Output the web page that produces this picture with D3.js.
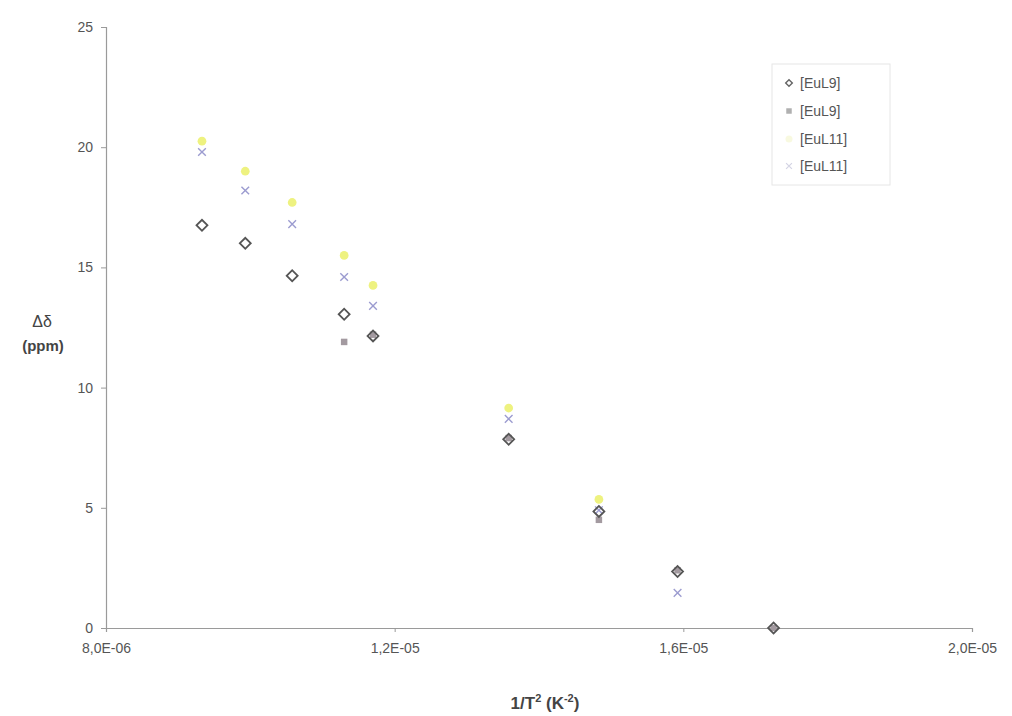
<!DOCTYPE html>
<html>
<head>
<meta charset="utf-8">
<script src="https://cdn.jsdelivr.net/npm/d3@7"></script>
<style>
  html, body { margin: 0; padding: 0; background: #fff; }
  svg { display: block; }
</style>
</head>
<body>
<svg id="chart" width="1012" height="716"></svg>
<script>
// ---- data ----
const xValues = [9.33e-6, 9.93e-6, 10.58e-6, 11.30e-6, 11.70e-6, 13.58e-6, 14.83e-6, 15.92e-6, 17.25e-6];
const seriesNames = ["[EuL9]", "[EuL9]", "[EuL11]", "[EuL11]"];
const eul9a  = [16.75, 16.0, 14.65, 13.05, 12.15, 7.85, 4.85, 2.35, 0.0];
const eul9b  = [null, null, null, 11.9, 12.2, 7.9, 4.5, 2.4, 0.0];
const eul11a = [20.25, 19.0, 17.7, 15.5, 14.25, 9.15, 5.35, null, null];
const eul11b = [19.8, 18.2, 16.8, 14.6, 13.4, 8.7, 4.9, 1.46, null];
const xTicks = [8e-6, 1.2e-5, 1.6e-5, 2.0e-5];
const yTicks = [0, 5, 10, 15, 20, 25];

const svg = d3.select("#chart");
const x = d3.scaleLinear().domain([8e-6, 2e-5]).range([106, 972]);
const y = d3.scaleLinear().domain([0, 25]).range([628, 27]);

const textColor = "#555";
const axisColor = "#9a9a9a";
const font = "Liberation Sans, Arial, sans-serif";

function excelSci(d) {
  const s = d.toExponential(1); // e.g. 8.0e-6
  const [m, e] = s.split("e");
  const sign = e[0] === "-" ? "-" : "+";
  const digits = e.replace(/[-+]/, "").padStart(2, "0");
  return m.replace(".", ",") + "E" + sign + digits;
}

// y axis
const yAxis = svg.append("g")
  .attr("transform", `translate(${x.range()[0]},0)`)
  .call(d3.axisLeft(y).tickValues(yTicks).tickSize(5).tickPadding(8).tickFormat(d3.format("d")));
yAxis.select(".domain").attr("stroke", axisColor).attr("stroke-width", 1.2);
yAxis.selectAll(".tick line").attr("stroke", axisColor);
yAxis.selectAll(".tick text").attr("fill", textColor)
  .style("font-family", font).style("font-size", "14px");

// x axis
const xAxis = svg.append("g")
  .attr("transform", `translate(0,${y(0)})`)
  .call(d3.axisBottom(x).tickValues(xTicks).tickSize(4).tickPadding(11).tickFormat(excelSci));
xAxis.select(".domain").attr("stroke", axisColor).attr("stroke-width", 1.2);
xAxis.selectAll(".tick line").attr("stroke", axisColor);
xAxis.selectAll(".tick text").attr("fill", textColor)
  .style("font-family", font).style("font-size", "14px");

// axis titles
svg.append("text")
  .attr("x", 42).attr("y", 327)
  .attr("text-anchor", "middle")
  .attr("fill", "#444")
  .style("font-family", font)
  .style("font-size", "16px")
  .text("Δδ");
svg.append("text")
  .attr("x", 43).attr("y", 351)
  .attr("text-anchor", "middle")
  .attr("fill", "#444")
  .style("font-family", font)
  .style("font-size", "15px").style("font-weight", "bold")
  .text("(ppm)");

const xt = svg.append("text")
  .attr("x", 545).attr("y", 709)
  .attr("text-anchor", "middle")
  .attr("fill", "#444")
  .style("font-family", font)
  .style("font-size", "17px").style("font-weight", "bold");
xt.append("tspan").text("1/T");
xt.append("tspan").attr("dy", -7).style("font-size", "11px").text("2");
xt.append("tspan").attr("dy", 7).text(" (K");
xt.append("tspan").attr("dy", -7).style("font-size", "11px").text("-2");
xt.append("tspan").attr("dy", 7).text(")");

// markers
const seriesDefs = [
  { vals: eul11a, kind: "yellow" },
  { vals: eul11b, kind: "cross" },
  { vals: eul9b,  kind: "square" },
  { vals: eul9a,  kind: "diamond" }
];

function drawMarker(g, kind, cx, cy) {
  if (kind === "diamond") {
    g.append("path")
      .attr("d", d3.symbol().type(d3.symbolSquare).size(60)())
      .attr("transform", `translate(${cx},${cy}) rotate(45)`)
      .attr("fill", "none").attr("stroke", "#555").attr("stroke-width", 1.8);
  } else if (kind === "square") {
    g.append("path")
      .attr("d", d3.symbol().type(d3.symbolSquare).size(42)())
      .attr("transform", `translate(${cx},${cy})`)
      .attr("fill", "#a39aa0").attr("stroke", "none");
  } else if (kind === "yellow") {
    g.append("path")
      .attr("d", d3.symbol().type(d3.symbolCircle).size(60)())
      .attr("transform", `translate(${cx},${cy})`)
      .attr("fill", "#eef280").attr("stroke", "none");
  } else if (kind === "cross") {
    g.append("path")
      .attr("d", d3.symbol().type(d3.symbolTimes).size(40)())
      .attr("transform", `translate(${cx},${cy})`)
      .attr("fill", "none").attr("stroke", "#9c9cd0").attr("stroke-width", 1.4);
  }
}

const plot = svg.append("g");
seriesDefs.forEach(s => {
  s.vals.forEach((v, i) => {
    if (v === null) return;
    drawMarker(plot, s.kind, x(xValues[i]), y(v));
  });
});

// legend
const legend = svg.append("g");
legend.append("rect")
  .attr("x", 772).attr("y", 64).attr("width", 118).attr("height", 121)
  .attr("fill", "none").attr("stroke", "#e6e6e6").attr("stroke-width", 1);
const legendKinds = ["diamond", "square", "yellow", "cross"];
const legendY = [83, 111, 139, 166];
seriesNames.forEach((name, i) => {
  const g = legend.append("g");
  const k = legendKinds[i];
  if (k === "yellow") {
    g.append("circle").attr("cx", 789).attr("cy", legendY[i]).attr("r", 3.5).attr("fill", "#f8f9e0");
  } else if (k === "diamond") {
    g.append("path")
      .attr("d", d3.symbol().type(d3.symbolSquare).size(22)())
      .attr("transform", `translate(789,${legendY[i]}) rotate(45)`)
      .attr("fill", "none").attr("stroke", "#666").attr("stroke-width", 1.4);
  } else if (k === "square") {
    g.append("path")
      .attr("d", d3.symbol().type(d3.symbolSquare).size(30)())
      .attr("transform", `translate(789,${legendY[i]})`)
      .attr("fill", "#b0b0b0");
  } else {
    g.append("path")
      .attr("d", d3.symbol().type(d3.symbolTimes).size(24)())
      .attr("transform", `translate(789,${legendY[i]})`)
      .attr("fill", "none").attr("stroke", "#d4d4e4").attr("stroke-width", 1.2);
  }
  g.append("text")
    .attr("x", 800).attr("y", legendY[i] + 5)
    .attr("fill", "#555")
    .style("font-family", font)
    .style("font-size", "14px")
    .text(name);
});
</script>
</body>
</html>
